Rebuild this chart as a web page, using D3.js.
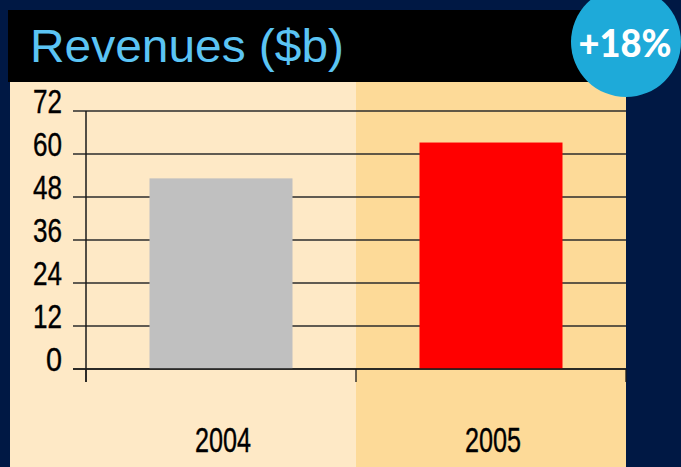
<!DOCTYPE html>
<html>
<head>
<meta charset="utf-8">
<script src="https://cdn.jsdelivr.net/npm/d3@7"></script>
<style>
  body { margin: 0; background: #001844; }
  svg { display: block; }
</style>
</head>
<body>
<svg id="chart" width="681" height="467"></svg>
<script>
// chart data
var years = ["2004", "2005"];
var revenues = [53.2, 63.2];
var barColors = ["#c0c0c0", "#ff0000"];
var yTicks = [0, 12, 24, 36, 48, 60, 72];
var title = "Revenues ($b)";
var growthLabel = "+18%";

var svg = d3.select("svg#chart");

var x = d3.scaleBand()
  .domain(years)
  .range([86, 626])
  .paddingInner(0)
  .paddingOuter(0);

var y = d3.scaleLinear()
  .domain([0, 72])
  .range([369, 111]);

// navy background
svg.append("rect")
  .attr("width", 681).attr("height", 467)
  .attr("fill", "#001844");

// panel halves (one per category)
var panelFill = ["#fee9c6", "#fdda98"];
svg.append("g").selectAll("rect")
  .data(years)
  .enter().append("rect")
  .attr("x", (d, i) => i ? x(d) : 10)
  .attr("y", 82)
  .attr("width", (d, i) => i ? x.bandwidth() : x(d) + x.bandwidth() - 10)
  .attr("height", 467 - 82)
  .attr("fill", (d, i) => panelFill[i]);

// title bar
svg.append("rect")
  .attr("x", 8).attr("y", 10)
  .attr("width", 628).attr("height", 72)
  .attr("fill", "#000");

svg.append("text")
  .attr("x", 30).attr("y", 62)
  .attr("fill", "#5bc4f4")
  .attr("font-family", "Liberation Sans, Arial, sans-serif")
  .attr("font-size", 46)
  .attr("textLength", 314)
  .attr("lengthAdjust", "spacingAndGlyphs")
  .text(title);

// gridlines
svg.append("g")
  .selectAll("line")
  .data(yTicks)
  .enter().append("line")
  .attr("x1", 73).attr("x2", 626)
  .attr("y1", d => y(d)).attr("y2", d => y(d))
  .attr("stroke", "#2b2b2b")
  .attr("stroke-width", 1.3);

// bars
var barW = 143;
svg.append("g")
  .selectAll("rect")
  .data(years)
  .enter().append("rect")
  .attr("x", d => x(d) + x.bandwidth() / 2 - barW / 2)
  .attr("y", (d, i) => y(revenues[i]))
  .attr("width", barW)
  .attr("height", (d, i) => y(0) - y(revenues[i]))
  .attr("fill", (d, i) => barColors[i]);

// x axis line + ticks
svg.append("line")
  .attr("x1", 73).attr("x2", 626)
  .attr("y1", y(0)).attr("y2", y(0))
  .attr("stroke", "#1a1a1a").attr("stroke-width", 1.5);

svg.append("g")
  .selectAll("line")
  .data(years.map(d => x(d)).concat([x.range()[1]]))
  .enter().append("line")
  .attr("x1", d => d).attr("x2", d => d)
  .attr("y1", y(0)).attr("y2", 382)
  .attr("stroke", "#1a1a1a").attr("stroke-width", 1.3);

// y axis line
svg.append("line")
  .attr("x1", 86).attr("x2", 86)
  .attr("y1", y(72)).attr("y2", 382)
  .attr("stroke", "#1a1a1a").attr("stroke-width", 1.5);

// y tick labels (condensed look of the original)
svg.append("g")
  .selectAll("text")
  .data(yTicks)
  .enter().append("text")
  .attr("x", 62)
  .attr("y", d => y(d) + 2)
  .attr("text-anchor", "end")
  .attr("font-family", "Liberation Sans, Arial, sans-serif")
  .attr("font-size", 34)
  .attr("textLength", d => String(d).length === 1 ? 16 : 29)
  .attr("lengthAdjust", "spacingAndGlyphs")
  .attr("fill", "#000")
  .attr("stroke", "#000")
  .attr("stroke-width", 0.4)
  .text(d => d);

// category labels
svg.append("g")
  .selectAll("text")
  .data(years)
  .enter().append("text")
  .attr("x", d => x(d) + x.bandwidth() / 2 + 2)
  .attr("y", 452)
  .attr("text-anchor", "middle")
  .attr("font-family", "Liberation Sans, Arial, sans-serif")
  .attr("font-size", 35)
  .attr("textLength", 56)
  .attr("lengthAdjust", "spacingAndGlyphs")
  .attr("fill", "#000")
  .attr("stroke", "#000")
  .attr("stroke-width", 0.4)
  .text(d => d);

// growth badge
svg.append("circle")
  .attr("cx", 626).attr("cy", 42).attr("r", 55)
  .attr("fill", "#1eaad9");

svg.append("text")
  .attr("x", 625).attr("y", 57)
  .attr("text-anchor", "middle")
  .attr("font-family", "Lato, sans-serif")
  .attr("font-weight", 900)
  .attr("font-size", 38)
  .attr("textLength", 93)
  .attr("lengthAdjust", "spacingAndGlyphs")
  .attr("fill", "#fff")
  .text(growthLabel);
</script>
</body>
</html>
